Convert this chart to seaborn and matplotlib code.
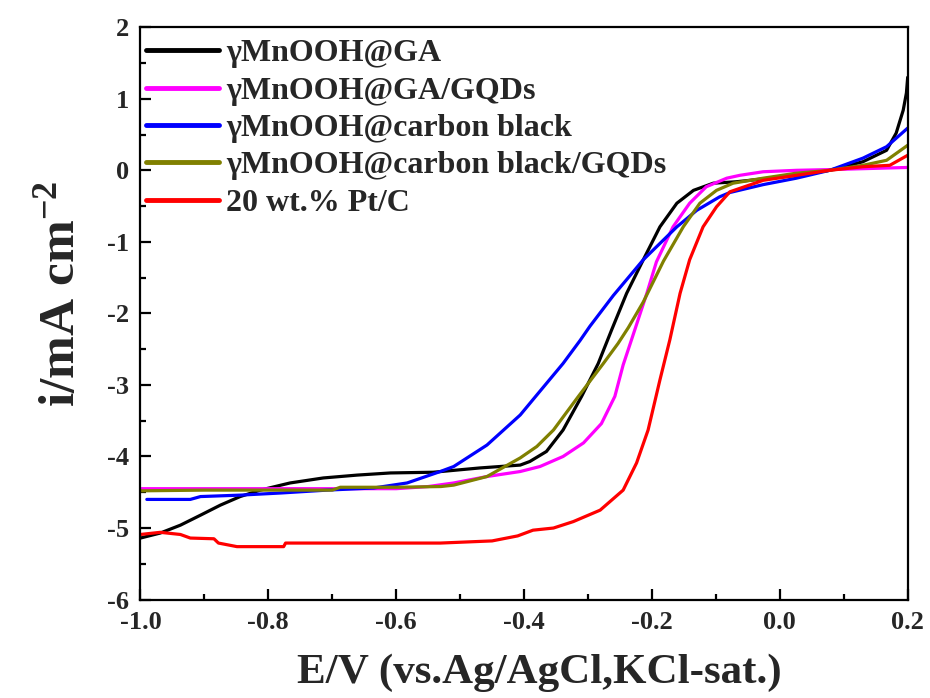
import matplotlib
matplotlib.use("Agg")
import matplotlib.pyplot as plt
from matplotlib.ticker import MultipleLocator
import seaborn as sns
import pandas as pd

sns.set_theme(style="ticks")
plt.rcParams['font.family'] = ['Liberation Serif', 'DejaVu Serif']
plt.rcParams['font.weight'] = 'bold'
plt.rcParams['mathtext.fontset'] = 'custom'
plt.rcParams['mathtext.rm'] = 'Liberation Serif:bold'
plt.rcParams['mathtext.it'] = 'Liberation Serif:bold'
plt.rcParams['mathtext.bf'] = 'Liberation Serif:bold'
plt.rcParams['mathtext.default'] = 'bf'

labels = ["γMnOOH@GA", "γMnOOH@GA/GQDs", "γMnOOH@carbon black",
          "γMnOOH@carbon black/GQDs", "20 wt.% Pt/C"]
colors = ["#000000", "#FF00FF", "#0000FF", "#808000", "#FF0000"]

E_ga = [-1.0, -0.969, -0.9375, -0.906, -0.875, -0.844, -0.8125, -0.766, -0.714, -0.661, -0.609,
        -0.542, -0.469, -0.406, -0.391, -0.365, -0.339, -0.310, -0.284, -0.263, -0.2396, -0.2135,
        -0.1875, -0.161, -0.135, -0.104, -0.068, 0.026, 0.078, 0.130, 0.167, 0.182, 0.193, 0.198, 0.2]
i_ga = [-5.14, -5.07, -4.96, -4.82, -4.68, -4.56, -4.47, -4.37, -4.30, -4.26, -4.23,
        -4.22, -4.16, -4.12, -4.07, -3.93, -3.63, -3.16, -2.70, -2.23, -1.72, -1.25,
        -0.79, -0.46, -0.28, -0.18, -0.16, -0.07, 0.0, 0.12, 0.28, 0.52, 0.84, 1.08, 1.30]

E_gq = [-1.0, -0.9, -0.8, -0.7, -0.6, -0.55, -0.51, -0.458, -0.406, -0.375, -0.339, -0.307,
        -0.279, -0.258, -0.245, -0.232, -0.208, -0.193, -0.167, -0.141, -0.115, -0.083, -0.0625,
        -0.026, 0.026, 0.078, 0.2]
i_gq = [-4.45, -4.45, -4.45, -4.45, -4.45, -4.42, -4.37, -4.28, -4.21, -4.14, -4.00, -3.81,
        -3.54, -3.16, -2.72, -2.37, -1.72, -1.28, -0.79, -0.46, -0.23, -0.11, -0.07,
        -0.02, 0.0, 0.01, 0.04]

E_cb = [-0.99, -0.922, -0.906, -0.844, -0.78, -0.708, -0.635, -0.583, -0.531, -0.51, -0.458,
        -0.406, -0.380, -0.339, -0.3125, -0.297, -0.2604, -0.2135, -0.161, -0.130, -0.094,
        -0.078, -0.026, 0.026, 0.078, 0.130, 0.167, 0.2]
i_cb = [-4.60, -4.60, -4.56, -4.54, -4.51, -4.47, -4.44, -4.37, -4.21, -4.14, -3.84,
        -3.42, -3.14, -2.70, -2.38, -2.18, -1.75, -1.25, -0.79, -0.56, -0.37,
        -0.31, -0.20, -0.11, 0.0, 0.17, 0.33, 0.59]

E_cq = [-1.0, -0.9, -0.8, -0.70, -0.6875, -0.6, -0.53, -0.51, -0.458, -0.406, -0.380, -0.354,
        -0.315, -0.276, -0.253, -0.237, -0.2135, -0.182, -0.151, -0.125, -0.099, -0.073,
        -0.026, 0.026, 0.078, 0.130, 0.167, 0.2]
i_cq = [-4.48, -4.47, -4.47, -4.47, -4.43, -4.43, -4.42, -4.40, -4.28, -4.02, -3.86, -3.63,
        -3.16, -2.70, -2.42, -2.20, -1.84, -1.27, -0.79, -0.46, -0.28, -0.18,
        -0.11, -0.04, 0.0, 0.07, 0.14, 0.35]

E_pt = [-1.0, -0.969, -0.9375, -0.922, -0.885, -0.878, -0.849, -0.776, -0.773, -0.531, -0.45,
        -0.41, -0.386, -0.354, -0.323, -0.281, -0.245, -0.224, -0.206, -0.1875, -0.172, -0.156,
        -0.141, -0.120, -0.099, -0.078, -0.026, 0.026, 0.078, 0.130, 0.172, 0.2]
i_pt = [-5.09, -5.06, -5.09, -5.14, -5.15, -5.21, -5.26, -5.26, -5.21, -5.21, -5.18,
        -5.11, -5.03, -5.00, -4.91, -4.75, -4.47, -4.09, -3.63, -2.93, -2.37, -1.72,
        -1.25, -0.79, -0.51, -0.30, -0.14, -0.07, 0.0, 0.05, 0.07, 0.21]

series = [(E_ga, i_ga), (E_gq, i_gq), (E_cb, i_cb), (E_cq, i_cq), (E_pt, i_pt)]

fig = plt.figure(figsize=(9.3, 6.98), dpi=100)
ax = fig.add_axes([0.151, 0.141, 0.825, 0.82])

for (E, I), lab, c in zip(series, labels, colors):
    df = pd.DataFrame({"E": E, "i": I})
    sns.lineplot(data=df, x="E", y="i", ax=ax, color=c, lw=2.3, label=lab,
                 sort=False, estimator=None)

ax.set_xlim(-1.0, 0.2)
ax.set_ylim(-6, 2)
ax.xaxis.set_minor_locator(MultipleLocator(0.1))
ax.yaxis.set_minor_locator(MultipleLocator(0.5))
ax.set_xticks([-1.0, -0.8, -0.6, -0.4, -0.2, 0.0, 0.2])
ax.set_xticklabels(["-1.0", "-0.8", "-0.6", "-0.4", "-0.2", "0.0", "0.2"])
ax.set_yticks([2, 1, 0, -1, -2, -3, -4, -5, -6])
ax.set_yticklabels(["2", "1", "0", "-1", "-2", "-3", "-4", "-5", "-6"])
ax.tick_params(which='both', direction='in', top=False, right=False,
               width=1.6, labelsize=19, pad=8, color='black')
ax.tick_params(which='major', length=8)
ax.tick_params(which='minor', length=4.5)
for lbl in ax.get_xticklabels() + ax.get_yticklabels():
    lbl.set_fontweight('bold')
for s in ax.spines.values():
    s.set_linewidth(1.6)
    s.set_color('black')

ax.set_xlabel("E/V (vs.Ag/AgCl,KCl-sat.)", fontsize=31, fontweight='bold')
ax.set_ylabel(r"i/mA cm$^{-2}$", fontsize=37, fontweight='bold')
ax.xaxis.set_label_coords(0.52, -0.095)
ax.yaxis.set_label_coords(-0.072, 0.535)

leg = ax.legend(loc='upper left', bbox_to_anchor=(0.003, 0.985), frameon=False,
                handlelength=2.3, handletextpad=0.22, labelspacing=0.25,
                borderpad=0.1, borderaxespad=0.0,
                prop={'weight': 'bold', 'size': 23})
for h in leg.get_lines():
    h.set_linewidth(3.5)

fig.savefig("out.png", dpi=100)
